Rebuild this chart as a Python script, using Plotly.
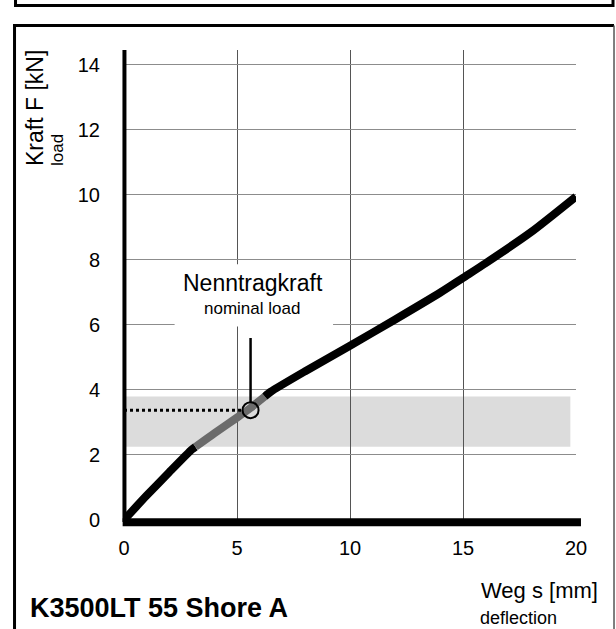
import numpy as np
import plotly.graph_objects as go

# ---- data ----
deflection_mm = [0, 1, 2, 3, 4, 5, 5.6, 6.5, 8, 10, 12, 14, 15, 16, 18, 20]
load_kN = [0, 0.75, 1.47, 2.17, 2.67, 3.15, 3.45, 3.95, 4.57, 5.36, 6.17, 7.0, 7.45, 7.9, 8.85, 9.95]
x_ticks = [0, 5, 10, 15, 20]
y_ticks = [0, 2, 4, 6, 8, 10, 12, 14]
band_lo, band_hi = 2.25, 3.8          # nominal load range [kN]
band_x_end = 19.75
nominal_x, nominal_y = 5.6, 3.38     # nominal load point
leader_top = 5.6
label_box = dict(x0=2.24, x1=9.25, y0=5.95, y1=7.87)

FONT = "Liberation Sans, Arial, sans-serif"

x = np.array(deflection_mm, dtype=float)
y = np.array(load_kN, dtype=float)
x_lo = float(np.interp(band_lo, y, x))
x_hi = float(np.interp(band_hi, y, x))

def segment(a, b):
    m = (x > a) & (x < b)
    xs = np.concatenate([[a], x[m], [b]])
    ys = np.interp(xs, x, y)
    return xs, ys

fig = go.Figure()

# curve: black - gray (inside band) - black
for (a, b), col in [((x[0], x_lo), "black"), ((x_lo, x_hi), "#6b6b6b"), ((x_hi, x[-1]), "black")]:
    xs, ys = segment(a, b)
    fig.add_trace(go.Scatter(x=xs, y=ys, mode="lines",
                             line=dict(color=col, width=8, shape="spline", smoothing=0.6),
                             hoverinfo="skip", showlegend=False, cliponaxis=False))

# dotted line to nominal point
fig.add_trace(go.Scatter(x=[0, nominal_x - 0.3], y=[nominal_y, nominal_y], mode="lines",
                         line=dict(color="black", width=3, dash="dot"), showlegend=False))
# leader line
fig.add_trace(go.Scatter(x=[nominal_x, nominal_x], y=[nominal_y + 0.25, leader_top], mode="lines",
                         line=dict(color="black", width=2.5), showlegend=False))
# circle
fig.add_trace(go.Scatter(x=[nominal_x], y=[nominal_y], mode="markers",
                         marker=dict(symbol="circle-open", size=16, color="black",
                                     line=dict(width=2, color="black")),
                         showlegend=False))

shapes = [
    # nominal band
    dict(type="rect", xref="x", yref="y", x0=0, x1=band_x_end, y0=band_lo, y1=band_hi,
         fillcolor="#dcdcdc", line=dict(width=0), layer="below"),
    # white label box
    dict(type="rect", xref="x", yref="y", **label_box,
         fillcolor="white", line=dict(width=0), layer="between"),
    # y axis line
    dict(type="line", xref="paper", yref="paper", x0=0.001, x1=0.001, y0=-0.004, y1=1.0,
         line=dict(color="black", width=4)),
    # x axis line
    dict(type="line", xref="paper", yref="paper", x0=-0.003, x1=1.011, y0=-0.005, y1=-0.005,
         line=dict(color="black", width=8)),
    # outer frame (left + top thick)
    dict(type="path", xref="paper", yref="paper",
         path="M -0.2422,-0.26 L -0.2422,1.0521 L 1.0841,1.0521",
         line=dict(color="black", width=3)),
    # outer frame right thin
    dict(type="line", xref="paper", yref="paper", x0=1.0841, x1=1.0841, y0=1.0521, y1=-0.26,
         line=dict(color="#555555", width=1.5)),
    # upper box bottom edge
    dict(type="path", xref="paper", yref="paper",
         path="M -0.2400,1.12 L -0.2400,1.0947 L 1.0819,1.0947 L 1.0819,1.12",
         line=dict(color="black", width=3)),
]

annotations = [
    dict(text="Kraft F [kN]", xref="paper", yref="paper", x=-0.1969, y=0.749,
         xanchor="center", yanchor="bottom", textangle=-90, showarrow=False,
         font=dict(family=FONT, size=23, color="black")),
    dict(text="load", xref="paper", yref="paper", x=-0.146, y=0.749,
         xanchor="center", yanchor="bottom", textangle=-90, showarrow=False,
         font=dict(family=FONT, size=17, color="black")),
    dict(text="Nenntragkraft", xref="paper", yref="paper", x=0.2854, y=0.5043,
         xanchor="center", yanchor="middle", showarrow=False,
         font=dict(family=FONT, size=23, color="black")),
    dict(text="nominal load", xref="paper", yref="paper", x=0.283, y=0.449,
         xanchor="center", yanchor="middle", showarrow=False,
         font=dict(family=FONT, size=17, color="black")),
    dict(text="<b>K3500LT 55 Shore A</b>", xref="paper", yref="paper", x=-0.2124, y=-0.187,
         xanchor="left", yanchor="middle", showarrow=False,
         font=dict(family=FONT, size=27, color="black")),
    dict(text="Weg s [mm]", xref="paper", yref="paper", x=1.053, y=-0.151,
         xanchor="right", yanchor="middle", showarrow=False,
         font=dict(family=FONT, size=22, color="black")),
    dict(text="deflection", xref="paper", yref="paper", x=0.783, y=-0.2085,
         xanchor="left", yanchor="middle", showarrow=False,
         font=dict(family=FONT, size=18, color="black")),
]

fig.update_layout(
    width=616, height=629,
    margin=dict(l=124, r=40, t=50, b=109),
    paper_bgcolor="white", plot_bgcolor="white",
    showlegend=False,
    shapes=shapes, annotations=annotations,
    xaxis=dict(range=[0, 20], tickvals=x_ticks, ticktext=[str(v) for v in x_ticks],
               showgrid=True, gridcolor="#555555", gridwidth=1, zeroline=False,
               showline=False, ticks="", ticklabelstandoff=14,
               tickfont=dict(family=FONT, size=20, color="black"), fixedrange=True),
    yaxis=dict(range=[0, 14.46], tickvals=y_ticks, ticktext=[str(v) for v in y_ticks],
               showgrid=True, gridcolor="#8c8c8c", gridwidth=1, zeroline=False,
               showline=False, ticks="", ticklabelstandoff=23,
               tickfont=dict(family=FONT, size=20, color="black"), fixedrange=True),
)

fig.write_html("out.html", config={"displayModeBar": False},
               post_script="document.body.style.margin='0';")
